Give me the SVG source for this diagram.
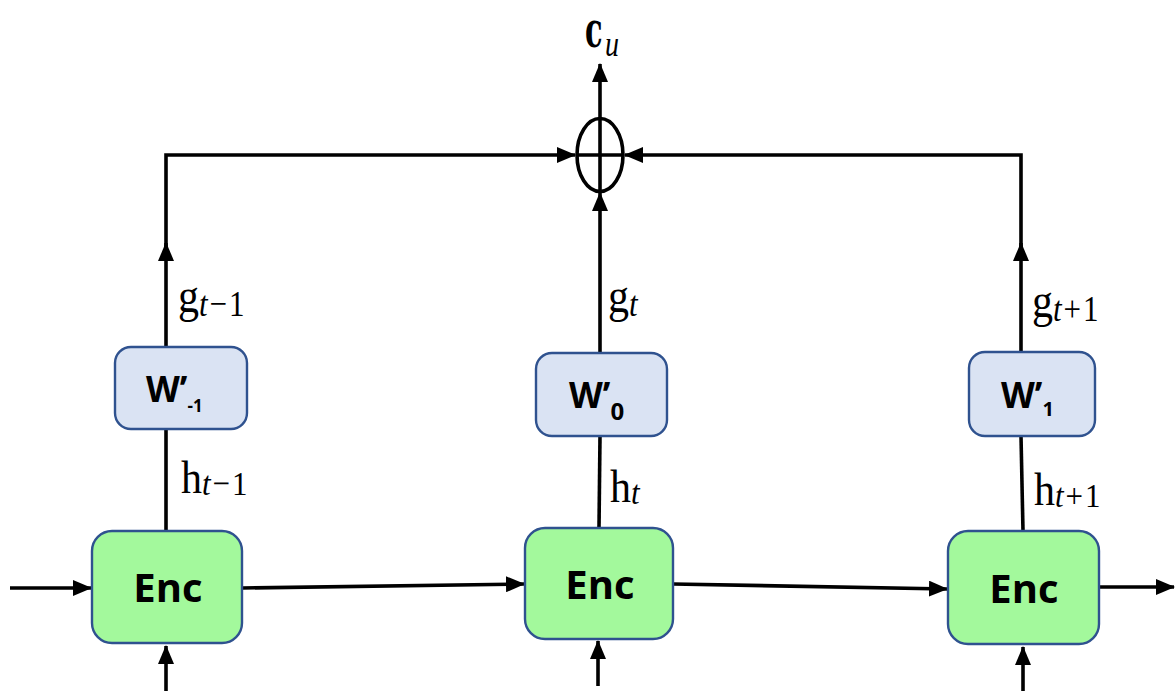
<svg xmlns="http://www.w3.org/2000/svg" width="1175" height="691" viewBox="0 0 1175 691">
  <defs>
    <marker id="arrow" viewBox="0 0 19 16" refX="18" refY="8" markerWidth="19" markerHeight="16" orient="auto" markerUnits="userSpaceOnUse">
      <path d="M0,0 L19,8 L0,16 z" fill="#000"/>
    </marker>
    <style>
      .wire { stroke: #000; stroke-width: 3.6; fill: none; }
      .enc { fill: #a3f99c; stroke: #2f528f; stroke-width: 2.4; }
      .wbox { fill: #dae3f3; stroke: #2f528f; stroke-width: 2.4; }
      .enc-t { font-family: "Open Sans", "Liberation Sans", sans-serif; font-weight: bold; font-size: 40px; fill: #000; text-anchor: middle; }
      .w-t { font-family: "Open Sans", "Liberation Sans", sans-serif; font-weight: bold; font-size: 35px; fill: #000; }
      .math { font-family: "Liberation Serif", "DejaVu Serif", serif; font-size: 42px; fill: #000; }
      .sub { font-size: 31px; }
      .it { font-style: italic; }
    </style>
  </defs>

  <rect width="1175" height="691" fill="#fff"/>

  <g id="connectors">
    <!-- sequence chain -->
    <line class="wire" x1="10" y1="588" x2="91" y2="588" marker-end="url(#arrow)"/>
    <line class="wire" x1="242" y1="588" x2="524" y2="584" marker-end="url(#arrow)"/>
    <line class="wire" x1="673" y1="584" x2="947" y2="589" marker-end="url(#arrow)"/>
    <line class="wire" x1="1099" y1="587" x2="1174" y2="587" marker-end="url(#arrow)"/>
    <!-- inputs from below -->
    <line class="wire" x1="166" y1="691" x2="166" y2="646" marker-end="url(#arrow)"/>
    <line class="wire" x1="598" y1="686" x2="598" y2="641" marker-end="url(#arrow)"/>
    <line class="wire" x1="1023" y1="691" x2="1023" y2="647" marker-end="url(#arrow)"/>
    <!-- encoder to projection -->
    <line class="wire" x1="166" y1="531" x2="166" y2="429"/>
    <line class="wire" x1="599" y1="528" x2="600" y2="436"/>
    <line class="wire" x1="1023" y1="531" x2="1021" y2="436"/>
    <!-- projections to the sum node -->
    <line class="wire" x1="166" y1="347" x2="166" y2="243" marker-end="url(#arrow)"/>
    <polyline class="wire" points="166,250 166,155 575,155" marker-end="url(#arrow)"/>
    <line class="wire" x1="600" y1="353" x2="600" y2="193" marker-end="url(#arrow)"/>
    <line class="wire" x1="1021" y1="352" x2="1021" y2="243" marker-end="url(#arrow)"/>
    <polyline class="wire" points="1021,250 1021,155 625,155" marker-end="url(#arrow)"/>
    <!-- output -->
    <line class="wire" x1="600" y1="118" x2="600" y2="64" marker-end="url(#arrow)"/>
  </g>

  <g id="sum">
    <ellipse cx="600" cy="155" rx="23" ry="36.5" fill="#fff" stroke="#000" stroke-width="3.6"/>
    <line x1="577" y1="155" x2="623" y2="155" stroke="#000" stroke-width="3.6"/>
    <line x1="600" y1="118.5" x2="600" y2="191.5" stroke="#000" stroke-width="3.6"/>
  </g>

  <g id="output-label">
    <text transform="translate(585,47) scale(0.9,1.55)" style="font-family:'DejaVu Serif','Liberation Serif',serif;font-weight:bold;font-size:32px;fill:#000">c</text>
    <text transform="translate(605,56) scale(1,1.3)" style="font-family:'Liberation Serif','DejaVu Serif',serif;font-style:italic;font-size:28px;fill:#000">u</text>
  </g>

  <g id="enc-1">
    <rect class="enc" x="92" y="531" width="150" height="112" rx="20"/>
    <text class="enc-t" x="168" y="602">Enc</text>
  </g>
  <g id="enc-2">
    <rect class="enc" x="525" y="528" width="148" height="111" rx="20"/>
    <text class="enc-t" x="600" y="599">Enc</text>
  </g>
  <g id="enc-3">
    <rect class="enc" x="948" y="531" width="151" height="113" rx="20"/>
    <text class="enc-t" x="1024" y="603">Enc</text>
  </g>

  <g id="w-minus1">
    <rect class="wbox" x="115" y="347" width="132" height="82" rx="16"/>
    <text class="w-t" x="146" y="402">W’<tspan font-size="17" dy="10">-1</tspan></text>
  </g>
  <g id="w-0">
    <rect class="wbox" x="536" y="353" width="131" height="83" rx="16"/>
    <text class="w-t" x="569" y="408">W’<tspan font-size="24" dy="12">0</tspan></text>
  </g>
  <g id="w-1">
    <rect class="wbox" x="969" y="352" width="126" height="84" rx="16"/>
    <text class="w-t" x="1001" y="408">W’<tspan font-size="20" dy="8">1</tspan></text>
  </g>

  <g id="labels">
    <text class="math" transform="translate(178,312) scale(1,1.18)">g<tspan class="sub it" dy="3">t</tspan><tspan class="sub" dx="2">−</tspan><tspan class="sub" dx="2">1</tspan></text>
    <text class="math" transform="translate(181,493) scale(1,1.12)">h<tspan class="sub it" dy="2">t</tspan><tspan class="sub" dx="2">−</tspan><tspan class="sub" dx="2">1</tspan></text>
    <text class="math" transform="translate(608,312) scale(1,1.18)">g<tspan class="sub it" dy="3">t</tspan></text>
    <text class="math" transform="translate(610,502) scale(1,1.12)">h<tspan class="sub it" dy="2">t</tspan></text>
    <text class="math" transform="translate(1032,317) scale(1,1.18)">g<tspan class="sub it" dy="3">t</tspan><tspan class="sub" dx="2">+</tspan><tspan class="sub" dx="2">1</tspan></text>
    <text class="math" transform="translate(1034,505) scale(1,1.12)">h<tspan class="sub it" dy="2">t</tspan><tspan class="sub" dx="2">+</tspan><tspan class="sub" dx="2">1</tspan></text>
  </g>
</svg>
